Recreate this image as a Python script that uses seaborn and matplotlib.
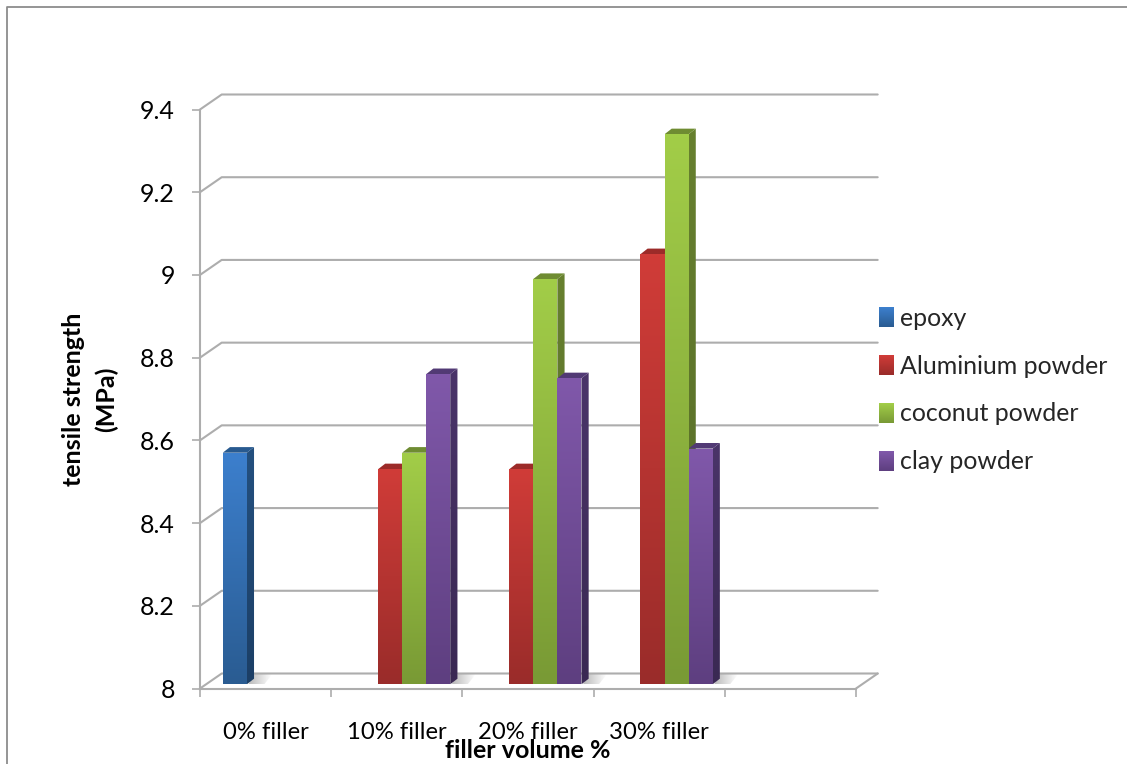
import numpy as np
import pandas as pd
import matplotlib
matplotlib.use("Agg")
import matplotlib.pyplot as plt
from matplotlib.colors import to_rgb
from matplotlib.lines import Line2D
from matplotlib.patches import Polygon
from matplotlib.transforms import IdentityTransform
from matplotlib.ticker import FuncFormatter
import seaborn as sns

categories = ["0% filler", "10% filler", "20% filler", "30% filler", " "]
epoxy = [8.56, np.nan, np.nan, np.nan, np.nan]
aluminium = [np.nan, 8.52, 8.52, 9.04, np.nan]
coconut = [np.nan, 8.56, 8.98, 9.33, np.nan]
clay = [np.nan, 8.75, 8.74, 8.57, np.nan]
series_names = ["epoxy", "Aluminium powder", "coconut powder", "clay powder"]

front_top = ["#3c7fcd", "#d03c38", "#a2cd48", "#8058aa"]
front_bot = ["#2a5c92", "#9a2c2a", "#799a35", "#5e3f80"]
side_top = ["#24507f", "#8a2725", "#67802f", "#4a3469"]
side_bot = ["#1c3f66", "#6e1f1d", "#556a27", "#3a2953"]
cap_col = ["#285a90", "#9c2b29", "#6f8c32", "#523a75"]

GRID = "#adadad"
FONT = "Lato"

W, H = 1127, 764
sns.set_theme(style="white")
plt.rcParams["font.family"] = [FONT, "DejaVu Sans"]

df = pd.DataFrame({"cat": categories, series_names[0]: epoxy, series_names[1]: aluminium,
                   series_names[2]: coconut, series_names[3]: clay})
long = df.melt(id_vars="cat", var_name="series", value_name="value")

fig = plt.figure(figsize=(W / 100, H / 100), dpi=100, facecolor="white")
ax = fig.add_axes([200 / W, (H - 688.5) / H, 656 / W, 579 / H], facecolor="none")

sns.barplot(data=long, x="cat", y="value", hue="series", order=categories,
            hue_order=series_names, palette=front_top, width=0.734, gap=0, dodge=True,
            errorbar=None, ax=ax, saturation=1, legend=True)

ax.set_xlim(-0.5, len(categories) - 0.5)
ax.set_ylim(8, 9.4)
ax.set_yticks(np.arange(8, 9.41, 0.2))
ax.yaxis.set_major_formatter(FuncFormatter(lambda v, _: f"{v:g}"))
ax.set_xticks(np.arange(-0.5, len(categories)))
ax.set_xticklabels([])
ax.set_xticks(np.arange(len(categories)), categories, minor=True)
ax.tick_params(axis="both", which="major", length=6, width=1.2, color=GRID,
               left=True, bottom=True, labelsize=18, labelcolor="black", pad=12)
ax.tick_params(axis="x", which="minor", length=0, labelsize=17.2, labelcolor="black", pad=24)
for s in ("top", "right"):
    ax.spines[s].set_visible(False)
for s in ("left", "bottom"):
    ax.spines[s].set_color(GRID)
    ax.spines[s].set_linewidth(1.5)

ax.set_xlabel("filler volume %", fontsize=18, fontweight="bold", color="black")
ax.xaxis.set_label_coords(0.5, -0.0865)
ax.set_ylabel("tensile strength\n(MPa)", fontsize=18, fontweight="bold", color="black",
              linespacing=1.5)
ax.yaxis.set_label_coords(-0.125, 0.5)

# depth geometry of the 3D look, in pixels (y up)
WALL = np.array([21.7, 15.0])
BAR_SHIFT = np.array([5.3, 4.2])
BAR_DEPTH = np.array([7.2, 5.6])
IDT = IdentityTransform()


def gradient(poly, top, bottom, zorder):
    poly = np.asarray(poly)
    x0, y0 = poly.min(axis=0)
    x1, y1 = poly.max(axis=0)
    t = np.linspace(0, 1, 64)[:, None]
    rgb = np.array(to_rgb(top))[None, :] * (1 - t) + np.array(to_rgb(bottom))[None, :] * t
    im = ax.imshow(rgb[:, None, :], extent=(x0, x1, y0, y1), origin="upper", aspect="auto",
                   transform=IDT, zorder=zorder, interpolation="bilinear", clip_on=True)
    im.set_clip_path(Polygon(poly, closed=True, transform=IDT))
    return im


xlim, ylim = ax.get_xlim(), ax.get_ylim()
to_px = ax.transData.transform

# back wall gridlines with their slanted returns
for v in ax.get_yticks():
    a = to_px((xlim[0], v))
    b = a + WALL
    c = to_px((xlim[1], v)) + WALL
    ax.add_line(Line2D([a[0], b[0], c[0]], [a[1], b[1], c[1]], transform=IDT, color=GRID,
                       lw=1.5, clip_on=False, zorder=1))
f0 = to_px((xlim[1], 8))
ax.add_line(Line2D([f0[0], f0[0] + WALL[0]], [f0[1], f0[1] + WALL[1]], transform=IDT,
                   color=GRID, lw=1.5, clip_on=False, zorder=1))

# bars: seaborn rectangles get shaded faces derived from their own geometry
bars = []
for idx, cont in enumerate(ax.containers):
    for patch in cont:
        if patch.get_height() and not np.isnan(patch.get_height()):
            bars.append((patch.get_x(), idx, patch))
bars.sort(key=lambda b: b[0])

z = 3
for _, idx, patch in bars:
    patch.set_visible(False)
    x, w, h = patch.get_x(), patch.get_width(), patch.get_height()
    ll = to_px((x, 8)) + BAR_SHIFT
    lr = to_px((x + w, 8)) + BAR_SHIFT
    ur = to_px((x + w, h)) + BAR_SHIFT
    ul = to_px((x, h)) + BAR_SHIFT
    gradient([lr, ur, ur + BAR_DEPTH, lr + BAR_DEPTH], side_top[idx], side_bot[idx], z)
    gradient([ul, ur, ur + BAR_DEPTH, ul + BAR_DEPTH], cap_col[idx], cap_col[idx], z)
    gradient([ll, lr, ur, ul], front_top[idx], front_bot[idx], z + 1)
    z += 2

# floor shadows beside each bar group
for cat_i in range(len(categories)):
    group = [b for b in bars if abs(b[2].get_x() + b[2].get_width() / 2 - cat_i) < 0.5]
    if not group:
        continue
    right = max(b[2].get_x() + b[2].get_width() for b in group)
    p = to_px((right, 8)) + BAR_SHIFT + np.array([BAR_DEPTH[0] * 0.2, 0])
    t = np.linspace(0.5, 0, 32)[None, :]
    rgba = np.dstack([np.full_like(t, 0.45)] * 3 + [t])
    sh_w = 24
    im = ax.imshow(rgba, extent=(p[0], p[0] + sh_w, p[1], p[1] + 10), origin="upper", aspect="auto",
                   transform=IDT, zorder=2, interpolation="bilinear")
    im.set_clip_path(Polygon([p, p + [sh_w - 8, 0], p + [sh_w, 10], p + [6, 10]], closed=True, transform=IDT))

ax.set_xlim(xlim)
ax.set_ylim(ylim)

# legend
sns.move_legend(ax, "center left", bbox_to_anchor=(879 / W, (H - 390) / H),
                bbox_transform=fig.transFigure, frameon=False, title=None,
                fontsize=17.9, labelspacing=1.0, handlelength=0.6, handleheight=0.85,
                handletextpad=0.25, borderpad=0, borderaxespad=0)
leg = ax.get_legend()
fig.canvas.draw()
renderer = fig.canvas.get_renderer()
for i, h in enumerate(leg.get_patches()):
    bb = h.get_window_extent(renderer)
    hgt = max(int(round(bb.height)), 1)
    wid = max(int(round(bb.width)), 1)
    t = np.linspace(0, 1, hgt)[:, None]
    col = np.array(to_rgb(front_top[i]))[None, :] * (1 - t) + np.array(to_rgb(front_bot[i]))[None, :] * t
    arr = np.repeat(col[:, None, :], wid, axis=1)
    fig.figimage(arr, xo=int(round(bb.x0)), yo=int(round(bb.y0)), origin="upper", zorder=10)

# chart-area frame, cut by the picture edge at right and bottom
fig.add_artist(Line2D([6.5 / W, 6.5 / W, 1], [0, (H - 7) / H, (H - 7) / H], color="#8c8c8c", lw=1.3,
                      transform=fig.transFigure))

fig.savefig("out.png", dpi=100)
